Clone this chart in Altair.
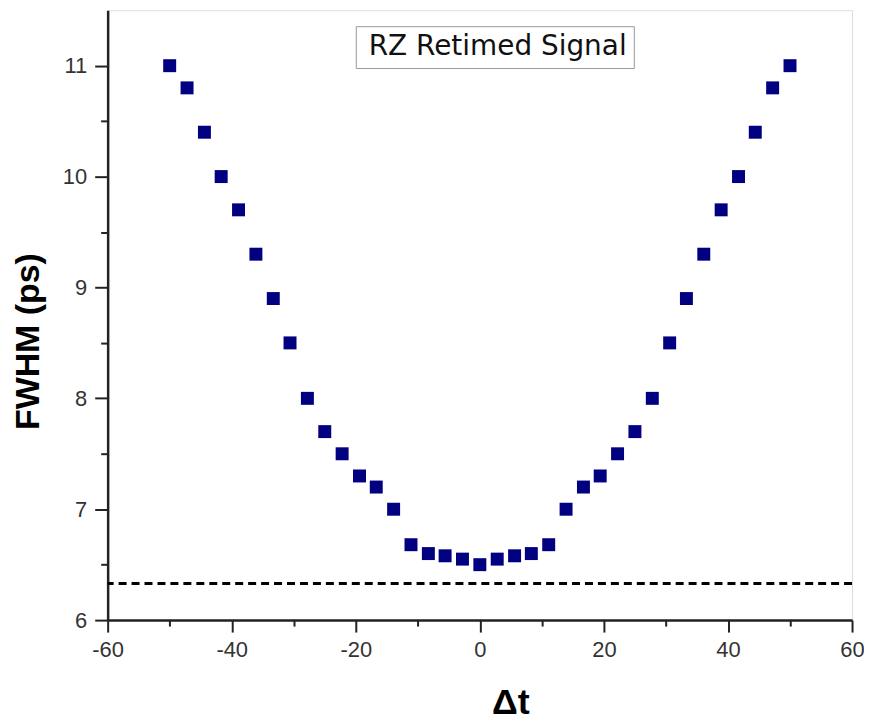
import altair as alt
import pandas as pd

# Data
dt_values = [-50, -47.2, -44.4, -41.7, -38.9, -36.1, -33.3, -30.6, -27.8, -25.0,
             -22.2, -19.4, -16.7, -13.9, -11.1, -8.3, -5.6, -2.8, 0.0,
             2.8, 5.6, 8.3, 11.1, 13.9, 16.7, 19.4, 22.2, 25.0, 27.8, 30.6,
             33.3, 36.1, 38.9, 41.7, 44.4, 47.2, 50]
fwhm_values = [11.0, 10.8, 10.4, 10.0, 9.7, 9.3, 8.9, 8.5, 8.0, 7.7,
               7.5, 7.3, 7.2, 7.0, 6.68, 6.6, 6.58, 6.55, 6.5,
               6.55, 6.58, 6.6, 6.68, 7.0, 7.2, 7.3, 7.5, 7.7, 8.0, 8.5,
               8.9, 9.3, 9.7, 10.0, 10.4, 10.8, 11.0]
series_name = "RZ Retimed Signal"
limit_line = 6.33
x_ticks = [-60, -50, -40, -30, -20, -10, 0, 10, 20, 30, 40, 50, 60]
y_ticks = [6, 6.5, 7, 7.5, 8, 8.5, 9, 9.5, 10, 10.5, 11]

df = pd.DataFrame({"dt": dt_values, "fwhm": fwhm_values, "series": series_name})
FONT = "Liberation Sans, Arial, Helvetica, sans-serif"
WIDE = "DejaVu Sans, Verdana, sans-serif"

x_axis = alt.Axis(
    values=x_ticks,
    labelExpr="datum.value % 20 === 0 ? '' + datum.value : ''",
    tickSize={"condition": {"test": "datum.value % 20 !== 0", "value": 6}, "value": 12},
    grid=False, labelFlush=False, labelOverlap=False,
    labelFontSize=22, labelColor="#333333", labelFont=FONT, labelPadding=8,
    title="Δt", titleFontSize=36, titleFontWeight="bold", titleFont=FONT,
    titleColor="black", titleX=404, titleY=94, titleBaseline="alphabetic",
    titleAlign="center",
    domainColor="#222222", domainWidth=2.5, tickColor="#222222", tickWidth=2,
)
y_axis = alt.Axis(
    values=y_ticks,
    labelExpr="datum.value % 1 === 0 ? '' + datum.value : ''",
    tickSize={"condition": {"test": "datum.value % 1 !== 0", "value": 7}, "value": 13},
    grid=False, labelOverlap=False,
    labelFontSize=22, labelColor="#333333", labelFont=FONT, labelPadding=8,
    title="FWHM (ps)", titleFontSize=34, titleFontWeight="bold", titleFont=FONT,
    titleColor="black", titleX=-79, titleY=332, titleBaseline="middle",
    titleAlign="center", titleAngle=270,
    domainColor="#222222", domainWidth=2.5, tickColor="#222222", tickWidth=2,
)

points = alt.Chart(df).mark_point(shape="square", filled=True, size=169, opacity=1).encode(
    x=alt.X("dt:Q", scale=alt.Scale(domain=[-60, 60], nice=False, zero=False), axis=x_axis),
    y=alt.Y("fwhm:Q", scale=alt.Scale(domain=[6, 11.5], nice=False, zero=False), axis=y_axis),
    color=alt.Color(
        "series:N",
        scale=alt.Scale(range=["#000080"]),
        legend=alt.Legend(
            title=None, orient="none", legendX=249, legendY=16,
            labelFontSize=28, labelFont=WIDE, labelColor="#111111", labelLimit=600,
            symbolSize=0, symbolStrokeWidth=0, symbolOpacity=0,
            labelOffset={"expr": "-22"},
            strokeColor="#999999", padding=7, fillColor="white",
        ),
    ),
)

rule = alt.Chart(pd.DataFrame({"y": [limit_line]})).mark_rule(
    color="black", strokeWidth=3, strokeDash=[8, 5]
).encode(y="y:Q")

chart = alt.layer(rule, points).properties(
    width=747, height=612,
    padding={"left": 100, "top": 1, "right": 12, "bottom": 103},
    autosize=alt.AutoSizeParams(type="none"),
).configure_view(stroke="#222222", strokeWidth=2.5).configure(background="white")

chart.save("out.html", embed_options={"renderer": "svg", "actions": False})
